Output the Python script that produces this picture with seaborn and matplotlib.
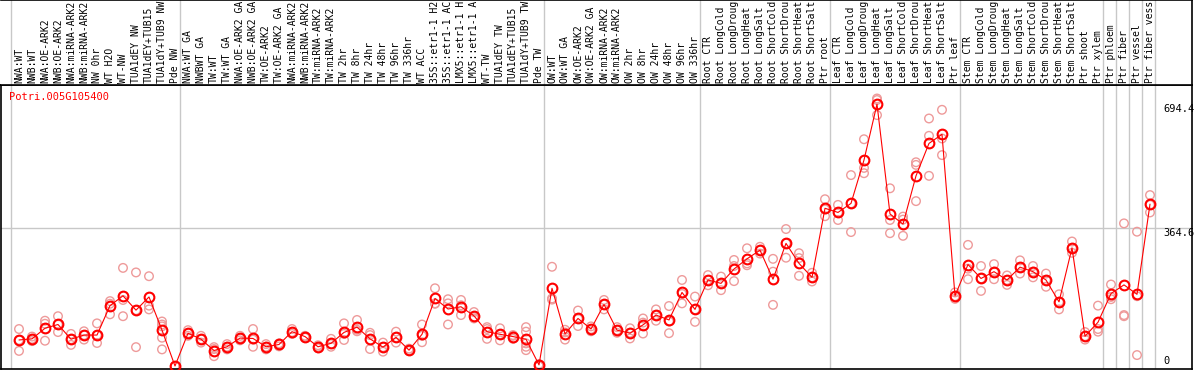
import numpy as np
import pandas as pd
import matplotlib
matplotlib.use("Agg")
import matplotlib.pyplot as plt
import seaborn as sns

sns.set_theme(style="white")
plt.rcParams["font.family"] = ["DejaVu Sans Mono", "DejaVu Sans"]

gene = "Potri.005G105400"

labels = [
    "NWA:WT", "NWB:WT", "NWA:OE-ARK2", "NWB:OE-ARK2", "NWA:miRNA-ARK2", "NWB:miRNA-ARK2",
    "NW 0hr", "WT H2O", "WT-NW", "TUA1dEY NW", "TUA1dEY+TUB15 NW", "TUA1dY+TUB9 NW", "Pde NW",
    "NWA:WT GA", "NWBWT GA", "TW:WT", "TW:WT GA", "NWA:OE-ARK2 GA", "NWB:OE-ARK2 GA",
    "TW:OE-ARK2", "TW:OE-ARK2 GA", "NWA:miRNA-ARK2 GA", "NWB:miRNA-ARK2 GA", "TW:miRNA-ARK2",
    "TW:miRNA-ARK2", "TW 2hr", "TW 8hr", "TW 24hr", "TW 48hr", "TW 96hr", "TW 336hr", "WT ACC",
    "35S::etr1-1 H2O", "35S::etr1-1 ACC", "LMX5::etr1-1 H2O", "LMX5::etr1-1 ACC", "WT-TW",
    "TUA1dEY TW", "TUA1dEY+TUB15 TW", "TUA1dY+TUB9 TW", "Pde TW",
    "OW:WT", "OW:WT GA", "OW:OE-ARK2", "OW:OE-ARK2 GA", "OW:miRNA-ARK2", "OW:miRNA-ARK2",
    "OW 2hr", "OW 8hr", "OW 24hr", "OW 48hr", "OW 96hr", "OW 336hr",
    "Root CTR", "Root LongCold", "Root LongDrought", "Root LongHeat", "Root LongSalt",
    "Root ShortCold", "Root ShortDrought", "Root ShortHeat", "Root ShortSalt", "Ptr root",
    "Leaf CTR", "Leaf LongCold", "Leaf LongDrought", "Leaf LongHeat", "Leaf LongSalt",
    "Leaf ShortCold", "Leaf ShortDrought", "Leaf ShortHeat", "Leaf ShortSalt", "Ptr leaf",
    "Stem CTR", "Stem LongCold", "Stem LongDrought", "Stem LongHeat", "Stem LongSalt",
    "Stem ShortCold", "Stem ShortDrought", "Stem ShortHeat", "Stem ShortSalt", "Ptr shoot",
    "Ptr xylem", "Ptr phloem", "Ptr fiber", "Ptr vessel", "Ptr fiber vessel",
]

means = [
    69, 72, 100, 110, 71, 82, 82, 160, 186, 148, 183, 95, 0,
    87, 71, 41, 51, 74, 73, 51, 57, 91, 78, 51, 60, 89, 103, 72, 50, 76, 42, 84,
    179, 151, 157, 133, 91, 84, 78, 71, 3,
    206, 85, 126, 98, 163, 95, 87, 109, 135, 122, 195, 150,
    228, 219, 257, 284, 307, 230, 325, 272, 235, 418,
    407, 431, 546, 694, 403, 376, 504, 590, 614, 186,
    269, 232, 250, 228, 262, 250, 228, 170, 313, 79,
    116, 192, 215, 190, 429,
]

reps = [
    [98, 69, 40], [78, 66, 72], [120, 112, 67], [132, 90, 110], [85, 56, 71], [92, 70, 82],
    [113, 61, 82], [172, 137, 165], [260, 132, 175], [248, 50, 148], [238, 160, 150],
    [118, 110, 105, 75, 44], [0, 0, 0],
    [95, 80, 87], [80, 62, 71], [50, 26, 45], [58, 44, 51], [80, 68, 74], [98, 51, 70],
    [58, 44, 51], [60, 52, 58], [98, 85, 90], [80, 75, 78], [55, 47, 51], [72, 51, 58],
    [113, 69, 85], [122, 92, 96], [88, 45, 82], [62, 38, 50], [91, 62, 76], [46, 40, 42],
    [110, 63, 80], [206, 166, 165], [177, 110, 166], [175, 135, 161], [143, 126, 130],
    [103, 72, 98], [100, 68, 84], [80, 72, 82], [103, 91, 60, 51, 42], [0, 0, 5],
    [263, 179, 176], [96, 70, 89], [147, 106, 125], [105, 92, 98], [175, 150, 163],
    [103, 88, 95], [100, 73, 88], [126, 115, 86], [150, 120, 135], [159, 118, 87],
    [228, 166, 191], [184, 117, 150],
    [241, 214, 228], [237, 201, 219], [281, 225, 265], [312, 267, 272], [316, 298, 307],
    [284, 250, 162], [363, 287, 325], [299, 286, 239], [247, 224, 235], [442, 397, 415],
    [427, 387, 407], [506, 355, 431], [601, 525, 511], [709, 665, 705], [471, 387, 352],
    [396, 345, 388], [540, 533, 437], [656, 610, 504], [679, 603, 559], [195, 178, 185],
    [321, 258, 230], [265, 232, 199], [270, 230, 250], [240, 215, 228], [280, 245, 262],
    [265, 235, 250], [245, 210, 228], [190, 150, 170], [330, 300, 313], [90, 70, 79],
    [160, 91, 98], [216, 177, 183], [378, 135, 132], [356, 29, 185], [453, 407, 427],
]

group_breaks = [0, 13, 41, 53, 63, 73, 84, 85, 86, 87, 88]
y_marks = [694.4, 364.6, 0]

# ---------------------------------------------------------------- layout
W, H = 1194, 370
fig = plt.figure(figsize=(W / 100, H / 100), dpi=100)


def box(x0, y0, x1, y1):
    return [x0 / W, 1 - y1 / H, (x1 - x0) / W, (y1 - y0) / H]


ax = fig.add_axes(box(1, 85, 1192, 369))
hx = fig.add_axes(box(1, 0, 1192, 85))

xmin = -18 / 13
xmax = xmin + 1191 / 13
pxu = 262 / 694.4
ylo, yhi = -3 / pxu, 281 / pxu

grid_c = "#c8c8c8"
n = len(labels)
idx = np.arange(n)

# replicates
rx, ry = [], []
for i, r in enumerate(reps):
    for v in r:
        rx.append(i)
        ry.append(v)
df_rep = pd.DataFrame({"idx": rx, "val": ry})
sns.scatterplot(data=df_rep, x="idx", y="val", ax=ax, s=38, marker="o",
                color="#f0a0a0", linewidth=1.0, zorder=2, legend=False)
coll = ax.collections[-1]
coll.set_facecolor("none")
coll.set_edgecolor("#ee9a9a")

# means
df_mean = pd.DataFrame({"idx": idx, "val": means})
sns.lineplot(data=df_mean, x="idx", y="val", ax=ax, color="red", lw=0.8,
             marker="o", markersize=7, markerfacecolor="none",
             markeredgecolor="red", markeredgewidth=1.5, zorder=3,
             estimator=None, sort=False, legend=False)

for k in group_breaks:
    ax.axvline(k - 8 / 13, color=grid_c, lw=1.0, zorder=1)
    hx.axvline(k - 8 / 13, color=grid_c, lw=1.0, zorder=1)
ax.axhline(364.6, color=grid_c, lw=1.0, zorder=1)

ax.set_xlim(xmin, xmax)
ax.set_ylim(ylo, yhi)
ax.set_xticks([])
ax.set_yticks([])
ax.set_xlabel("")
ax.set_ylabel("")
for s in ax.spines.values():
    s.set_color("black")
    s.set_linewidth(1.2)

tx = (1163 - 19) / 13
ax.text(tx, y_marks[0], "694.4", ha="left", va="top", fontsize=7.5, color="black")
ax.text(tx, y_marks[1], "364.6", ha="left", va="top", fontsize=7.5, color="black")
ax.text(tx, y_marks[2], "0", ha="left", va="bottom", fontsize=7.5, color="black")
ax.text(xmin + 8 / 13, yhi - 12 / pxu, gene, ha="left", va="center",
        fontsize=7.5, color="red")

# header
hx.set_xlim(xmin, xmax)
hx.set_ylim(0, 85)
hx.set_xticks([])
hx.set_yticks([])
hx.set_facecolor("white")
for name, s in hx.spines.items():
    s.set_color("black")
    s.set_linewidth(1.2)
hx.spines["left"].set_visible(False)
for i, lab in enumerate(labels):
    shown = lab[:14].rstrip()  # the header only has room for 14 characters
    hx.text(i, 2, shown, rotation=90, ha="center", va="bottom", fontsize=7.0,
            color="black")

fig.savefig("out.png", dpi=100)
